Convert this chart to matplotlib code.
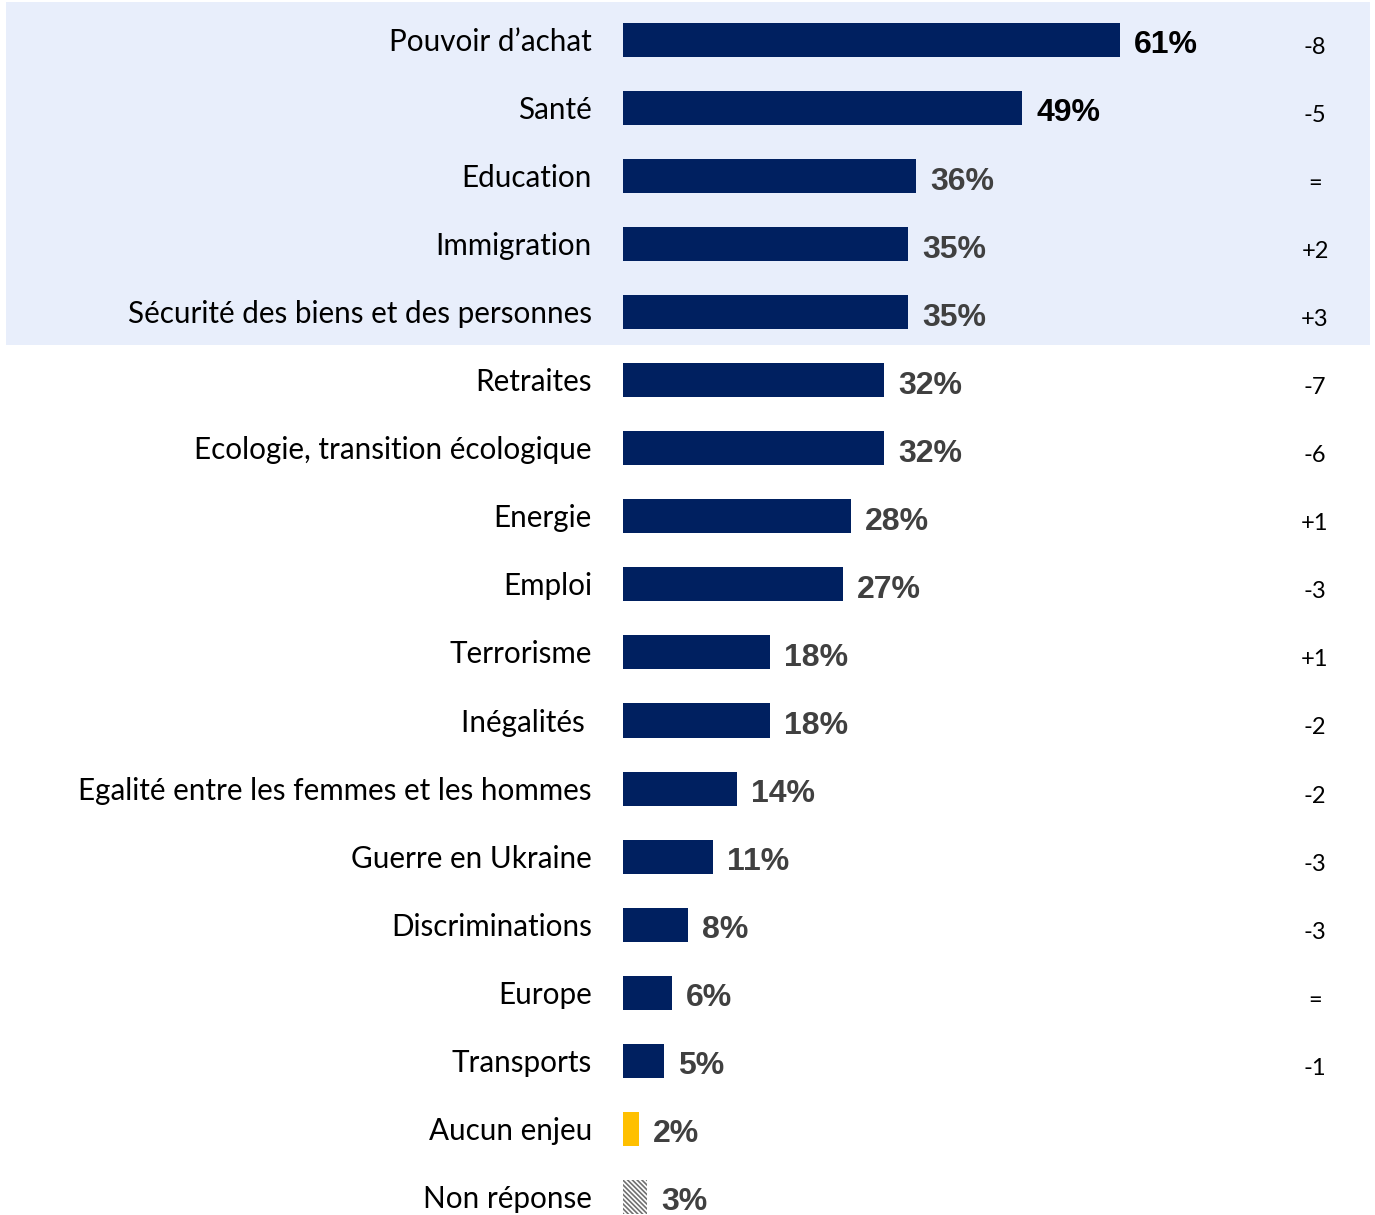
import matplotlib
matplotlib.use("Agg")
import matplotlib.pyplot as plt
from matplotlib.patches import Rectangle

categories = ["Pouvoir d\u2019achat", "Santé", "Education", "Immigration",
              "Sécurité des biens et des personnes", "Retraites",
              "Ecologie, transition écologique", "Energie", "Emploi",
              "Terrorisme", "Inégalités ", "Egalité entre les femmes et les hommes",
              "Guerre en Ukraine", "Discriminations", "Europe", "Transports",
              "Aucun enjeu", "Non réponse"]
values = [61, 49, 36, 35, 35, 32, 32, 28, 27, 18, 18, 14, 11, 8, 6, 5, 2, 3]
changes = ["-8", "-5", "=", "+2", "+3", "-7", "-6", "+1", "-3", "+1", "-2",
           "-2", "-3", "-3", "=", "-1", "", ""]

navy = "#002060"
W, H = 1375, 1215
ppu = 8.15          # pixels per percent
x0 = 623            # pixel where bars start
row0, step = 40, 68.05

plt.rcParams["hatch.linewidth"] = 1.2

fig = plt.figure(figsize=(W / 100, H / 100), dpi=100)
ax = fig.add_axes([0, 0, 1, 1])
ax.set_xlim(-x0 / ppu, (W - x0) / ppu)
ax.set_ylim((H - row0) / step, -row0 / step)
ax.axis("off")

# highlighted top 5
ax.add_patch(Rectangle(((6 - x0) / ppu, (2 - row0) / step),
                       (1370 - 6) / ppu, (345 - 2) / step,
                       facecolor="#E8EEFB", edgecolor="none", zorder=0))

for i, (cat, v, ch) in enumerate(zip(categories, values, changes)):
    if cat == "Aucun enjeu":
        ax.barh(i, v, height=0.5, color="#FFC000", zorder=2)
    elif cat == "Non réponse":
        ax.barh(i, v, height=0.5, facecolor="white", edgecolor="#707070",
                hatch="\\" * 7, linewidth=0, zorder=2)
    else:
        ax.barh(i, v, height=0.5, color=navy, zorder=2)
    ax.text(-31 / ppu, i + 0.03, cat, ha="right", va="center", fontsize=21.3,
            family="Lato", color="black")
    col = "black" if i < 2 else "#404040"
    ax.text(v + 14 / ppu, i + 0.08, f"{v}%", ha="left", va="center",
            fontsize=23, fontweight="bold", family="Liberation Sans", color=col)
    if ch:
        ax.text((1315 - x0) / ppu, i + 0.11, ch, ha="center", va="center",
                fontsize=17, family="Lato", color="black")

fig.savefig("out.png", dpi=100)
